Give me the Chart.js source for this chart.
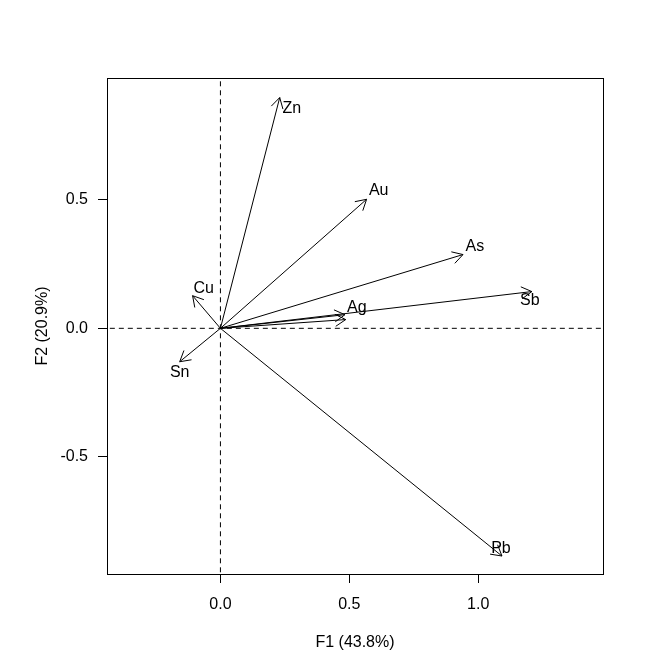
<!DOCTYPE html>
<html>
<head>
<meta charset="utf-8">
<script src="https://cdn.jsdelivr.net/npm/chart.js@4.4.1/dist/chart.umd.min.js"></script>
<style>
  html, body { margin: 0; padding: 0; background: #fff; }
  canvas { display: block; }
</style>
</head>
<body>
<canvas id="biplot" width="672" height="672"></canvas>
<script>
// variable loadings on F1 / F2 (arrow tips)
const varNames = ['Zn', 'Au', 'As', 'Sb', 'Ag', '', 'Cu', 'Sn', 'Pb'];
const f1Load = [0.230, 0.567, 0.941, 1.208, 0.483, 0.486, -0.108, -0.158, 1.092];
const f2Load = [0.898, 0.502, 0.287, 0.143, 0.053, 0.034, 0.127, -0.130, -0.886];
// where the names sit
const labelF1 = [0.277, 0.614, 0.987, 1.200, 0.529, null, -0.065, -0.158, 1.088];
const labelF2 = [0.855, 0.536, 0.318, 0.108, 0.081, null, 0.154, -0.172, -0.857];

const xTicks = [0, 0.5, 1.0];
const xTickLabels = ['0.0', '0.5', '1.0'];
const yTicks = [-0.5, 0, 0.5];
const yTickLabels = ['-0.5', '0.0', '0.5'];

const xTitle = 'F1 (43.8%)';
const yTitle = 'F2 (20.9%)';

const FONT = 'Liberation Sans, Arial, sans-serif';
Chart.defaults.font.family = FONT;
Chart.defaults.font.size = 16;
Chart.defaults.color = '#000';

let datasets = [];

// dashed reference lines through the origin
datasets.push({
	data: [{x: 0, y: -2}, {x: 0, y: 2}],
	borderColor: '#000', borderWidth: 1, borderDash: [5, 4],
	pointRadius: 0, showLine: true, isRef: true
});
datasets.push({
	data: [{x: -2, y: 0}, {x: 3, y: 0}],
	borderColor: '#000', borderWidth: 1, borderDash: [5, 4],
	pointRadius: 0, showLine: true, isRef: true
});

varNames.forEach((name, i) => {
	datasets.push({
		label: name,
		data: [{x: 0, y: 0}, {x: f1Load[i], y: f2Load[i]}],
		borderColor: '#000', borderWidth: 1,
		pointRadius: 0, showLine: true, isArrow: true, idx: i
	});
});

const boxPlugin = {
	id: 'box',
	afterDatasetsDraw(chart){
		const {ctx, chartArea: a, scales} = chart;
		ctx.save();
		ctx.strokeStyle = '#000';
		ctx.lineWidth = 1;
		ctx.setLineDash([]);

		// arrow heads
		chart.data.datasets.forEach((ds) => {
			if(!ds.isArrow) return;
			const x0 = scales.x.getPixelForValue(ds.data[0].x);
			const y0 = scales.y.getPixelForValue(ds.data[0].y);
			const x1 = scales.x.getPixelForValue(ds.data[1].x);
			const y1 = scales.y.getPixelForValue(ds.data[1].y);
			const ang = Math.atan2(y1 - y0, x1 - x0);
			const len = 12, spread = Math.PI / 6;
			ctx.beginPath();
			ctx.moveTo(x1 - len * Math.cos(ang - spread), y1 - len * Math.sin(ang - spread));
			ctx.lineTo(x1, y1);
			ctx.lineTo(x1 - len * Math.cos(ang + spread), y1 - len * Math.sin(ang + spread));
			ctx.stroke();
		});

		// names
		ctx.fillStyle = '#000';
		ctx.font = '16px ' + FONT;
		ctx.textAlign = 'center';
		ctx.textBaseline = 'middle';
		varNames.forEach((name, i) => {
			if(labelF1[i] === null) return;
			ctx.fillText(name, scales.x.getPixelForValue(labelF1[i]), scales.y.getPixelForValue(labelF2[i]));
		});

		// frame
		ctx.strokeRect(Math.round(a.left) + 0.5, Math.round(a.top) + 0.5,
			Math.round(a.right - a.left), Math.round(a.bottom - a.top));
		ctx.restore();
	}
};

new Chart(document.getElementById('biplot'), {
	type: 'scatter',
	data: { datasets: datasets },
	options: {
		responsive: false,
		animation: false,
		layout: { padding: { top: 78, right: 69, left: 0, bottom: 0 } },
		plugins: {
			legend: { display: false },
			tooltip: { enabled: false }
		},
		scales: {
			x: {
				type: 'linear',
				min: -0.440, max: 1.484,
				afterBuildTicks: (scale) => { scale.ticks = xTicks.map(v => ({value: v})); },
				afterFit: (scale) => { scale.height = 98; },
				ticks: {
					padding: 12,
					maxRotation: 0,
					callback: (v) => xTickLabels[xTicks.indexOf(v)]
				},
				grid: { drawOnChartArea: false, drawTicks: true, tickLength: 9, color: '#000' },
				border: { display: false },
				title: { display: true, text: xTitle, padding: { top: 20, bottom: 20 } }
			},
			y: {
				type: 'linear',
				min: -0.956, max: 0.974,
				afterBuildTicks: (scale) => { scale.ticks = yTicks.map(v => ({value: v})); },
				afterFit: (scale) => { scale.width = 107; },
				ticks: {
					padding: 10,
					callback: (v) => yTickLabels[yTicks.indexOf(v)]
				},
				grid: { drawOnChartArea: false, drawTicks: true, tickLength: 9, color: '#000' },
				border: { display: false },
				title: { display: true, text: yTitle, padding: { top: 33, bottom: 33 } }
			}
		}
	},
	plugins: [boxPlugin]
});
</script>
</body>
</html>
